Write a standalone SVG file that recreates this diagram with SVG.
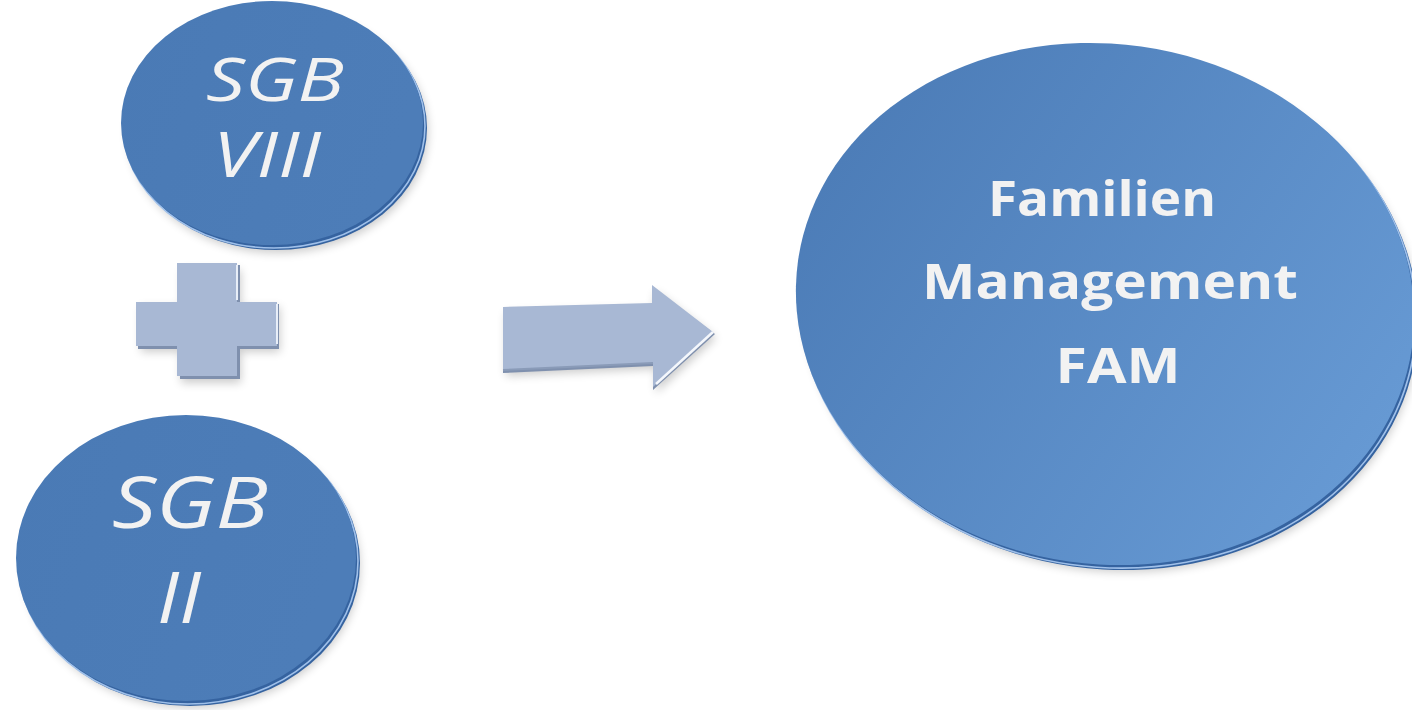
<svg xmlns="http://www.w3.org/2000/svg" width="1412" height="710" viewBox="0 0 1412 710">
<style>
.lbl{fill:#f2f2f2;font-family:"Open Sans","Liberation Sans",sans-serif;text-anchor:middle}
.it{font-style:italic;font-weight:400}
.bd{font-weight:700}
.rim{fill:#3563a0}
.hl{fill:none;stroke:#9fc0ea;stroke-width:1.6}
.shape{fill:#a8b8d4}
.shapeRim{fill:#7f90ae}
</style>
<defs>
<linearGradient id="gBlue" x1="0" y1="0" x2="1" y2="0.3">
<stop offset="0" stop-color="#4a7ab5"/>
<stop offset="1" stop-color="#4d7db8"/>
</linearGradient>
<linearGradient id="gBig" x1="0" y1="0.2" x2="1" y2="0.6">
<stop offset="0" stop-color="#4b7bb6"/>
<stop offset="1" stop-color="#6699d3"/>
</linearGradient>
<filter id="sh" x="-20%" y="-20%" width="140%" height="150%">
<feGaussianBlur stdDeviation="5"/>
</filter>
</defs>

<g id="node-sgb8">
<ellipse cx="278" cy="132" rx="150" ry="121" fill="#000" opacity="0.2" filter="url(#sh)"/>
<ellipse class="rim" cx="276" cy="128" rx="151" ry="122"/>
<ellipse class="hl" cx="274" cy="126" rx="151" ry="122"/>
<ellipse cx="272" cy="123" rx="151" ry="122" fill="url(#gBlue)"/>
<text class="lbl it" x="275" y="101" font-size="60" textLength="138" lengthAdjust="spacingAndGlyphs">SGB</text>
<text class="lbl it" x="267" y="177" font-size="62" textLength="108" lengthAdjust="spacingAndGlyphs">VIII</text>
</g>

<g id="node-sgb2">
<ellipse cx="192" cy="567" rx="168" ry="141" fill="#000" opacity="0.2" filter="url(#sh)"/>
<ellipse class="rim" cx="190" cy="563" rx="170" ry="143"/>
<ellipse class="hl" cx="188" cy="561" rx="170" ry="143"/>
<ellipse cx="186" cy="558" rx="170" ry="143" fill="url(#gBlue)"/>
<text class="lbl it" x="190" y="528" font-size="72" textLength="156" lengthAdjust="spacingAndGlyphs">SGB</text>
<text class="lbl it" x="179" y="623" font-size="72" textLength="44" lengthAdjust="spacingAndGlyphs">II</text>
</g>

<g id="node-fam">
<ellipse cx="1111" cy="313" rx="308" ry="258" transform="rotate(8 1111 313)" fill="#000" opacity="0.2" filter="url(#sh)"/>
<ellipse class="rim" cx="1109" cy="309" rx="310" ry="260" transform="rotate(8 1109 309)"/>
<ellipse class="hl" cx="1107" cy="307" rx="310" ry="260" transform="rotate(8 1107 307)"/>
<ellipse cx="1105" cy="304" rx="310" ry="260" transform="rotate(8 1105 304)" fill="url(#gBig)"/>
<text class="lbl bd" x="1102" y="216" font-size="48" textLength="228" lengthAdjust="spacingAndGlyphs">Familien</text>
<text class="lbl bd" x="1110" y="299" font-size="48" textLength="376" lengthAdjust="spacingAndGlyphs">Management</text>
<text class="lbl bd" x="1118" y="383" font-size="48" textLength="125" lengthAdjust="spacingAndGlyphs">FAM</text>
</g>

<g id="connectors">
<g id="plus">
<polygon points="182,270 241,270 241,307 280,307 280,352 241,352 241,383 181,383 181,352 141,352 141,307 182,307" fill="#000" opacity="0.2" filter="url(#sh)"/>
<polygon class="shapeRim" points="180,265 240,265 240,304 279,304 279,349 240,349 240,379 180,379 180,349 138,349 138,304 180,304"/>
<polygon class="shape" points="177,263 237,263 237,302 277,302 277,346 237,346 237,376 177,376 177,346 136,346 136,302 177,302"/>
<path d="M 237 265 L 237 300 M 277 304 L 277 344" stroke="#e8eef8" stroke-width="2" fill="none"/>
</g>
<g id="arrow">
<polygon points="506,313 655,309 655,291 716,338 656,393 656,369 506,376" fill="#000" opacity="0.2" filter="url(#sh)"/>
<polygon class="shapeRim" points="503,309 652,305 652,287 715,334 653,390 653,366 503,373"/>
<polygon class="shape" points="503,307 652,303 652,285 713,332 653,387 653,363 503,370"/>
<path d="M 713 332 L 656 384" stroke="#f4f7fc" stroke-width="2.5" fill="none"/>
<path d="M 503 370 L 653 363" stroke="#8a9bb8" stroke-width="2" fill="none"/>
</g>
</g>
</svg>
